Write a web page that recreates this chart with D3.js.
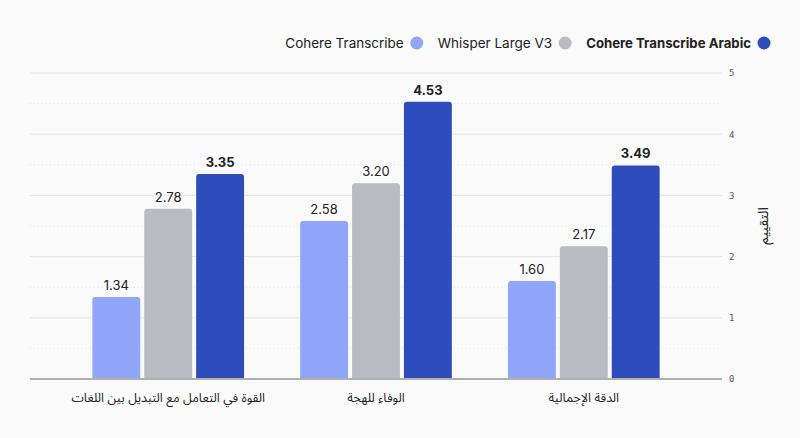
<!DOCTYPE html>
<html>
<head>
<meta charset="utf-8">
<script src="https://cdn.jsdelivr.net/npm/d3@7"></script>
<style>
  html, body { margin: 0; padding: 0; background: #fafafa; }
  svg { display: block; font-family: Inter, "Noto Sans Arabic", "Noto Naskh Arabic", "Noto Sans", "DejaVu Sans", sans-serif; }
</style>
</head>
<body>
<div id="chart"></div>
<script>
var categories = ["القوة في التعامل مع التبديل بين اللغات", "الوفاء للهجة", "الدقة الإجمالية"];
var seriesNames = ["Cohere Transcribe", "Whisper Large V3", "Cohere Transcribe Arabic"];
var seriesColors = ["#8fa6fb", "#bbbbc4", "#2c4dbb"];
var cohereTranscribe = [1.34, 2.58, 1.60];
var whisperLargeV3 = [2.78, 3.20, 2.17];
var cohereArabic = [3.35, 4.53, 3.49];
var yTicks = [0, 1, 2, 3, 4, 5];
var yLabel = "التقييم";

var series = [cohereTranscribe, whisperLargeV3, cohereArabic];

var width = 800, height = 438;
var plotLeft = 30, plotRight = 722, plotTop = 73, plotBottom = 379;

var svg = d3.select("#chart").append("svg")
    .attr("width", width)
    .attr("height", height);

var y = d3.scaleLinear().domain([0, 5]).range([plotBottom, plotTop]);
var x0 = d3.scaleBand().domain(categories).range([plotLeft, plotRight])
    .paddingInner(0.27).paddingOuter(0.3);
var x1 = d3.scaleBand().domain(seriesNames).range([0, x0.bandwidth()])
    .paddingInner(0.077);

// grid: solid at whole numbers, dotted at halves
var g = svg.append("g");
d3.range(0.5, 5, 1).forEach(function(v) {
    g.append("line")
        .attr("x1", plotLeft).attr("x2", plotRight)
        .attr("y1", y(v)).attr("y2", y(v))
        .style("stroke", "#e2e2e2")
        .style("stroke-width", 1)
        .style("stroke-dasharray", "1,3");
});
yTicks.forEach(function(v) {
    if (v === 0) return;
    g.append("line")
        .attr("x1", plotLeft).attr("x2", plotRight)
        .attr("y1", y(v)).attr("y2", y(v))
        .style("stroke", "#e4e4e4")
        .style("stroke-width", 1);
});

// y axis on the right
var yAxis = d3.axisRight(y).tickValues(yTicks).tickFormat(d3.format("d"))
    .tickSize(0).tickPadding(7);
var ax = svg.append("g")
    .attr("transform", "translate(" + plotRight + ",0)")
    .call(yAxis);
ax.select(".domain").remove();
ax.selectAll("text")
    .style("font-family", "'DejaVu Sans Mono', monospace")
    .style("font-size", "9px")
    .style("fill", "#555");

svg.append("text")
    .attr("transform", "translate(768," + ((plotTop + plotBottom) / 2) + ") rotate(-90)")
    .attr("text-anchor", "middle")
    .style("font-size", "14px")
    .style("fill", "#222")
    .text(yLabel);

// rounded-top bar path
function barPath(bx, by, bw, bh, r) {
    r = Math.min(r, bh);
    return "M" + bx + "," + (by + bh) +
        "V" + (by + r) +
        "Q" + bx + "," + by + " " + (bx + r) + "," + by +
        "H" + (bx + bw - r) +
        "Q" + (bx + bw) + "," + by + " " + (bx + bw) + "," + (by + r) +
        "V" + (by + bh) + "Z";
}

var groups = svg.append("g").selectAll("g")
    .data(categories)
    .join("g")
    .attr("transform", function(d) { return "translate(" + x0(d) + ",0)"; });

groups.each(function(cat, ci) {
    var grp = d3.select(this);
    seriesNames.forEach(function(name, si) {
        var v = series[si][ci];
        var bx = x1(name), bw = x1.bandwidth();
        grp.append("path")
            .attr("d", barPath(bx, y(v), bw, y(0) - y(v), 3))
            .style("fill", seriesColors[si]);
        grp.append("text")
            .attr("x", bx + bw / 2)
            .attr("y", y(v) - 7)
            .attr("text-anchor", "middle")
            .style("font-size", "13px")
            .style("font-weight", si === 2 ? "700" : "400")
            .style("fill", "#222")
            .text(v.toFixed(2));
    });
    grp.append("text")
        .attr("x", x0.bandwidth() / 2)
        .attr("y", 402)
        .attr("text-anchor", "middle")
        .style("font-size", "12.5px")
        .style("fill", "#222")
        .text(cat);
});

// baseline
svg.append("line")
    .attr("x1", plotLeft).attr("x2", plotRight)
    .attr("y1", y(0)).attr("y2", y(0))
    .style("stroke", "#b0b0b0")
    .style("stroke-width", 2);

// legend, right aligned
var legend = svg.append("g");
var lx = 770;
for (var i = seriesNames.length - 1; i >= 0; i--) {
    legend.append("circle")
        .attr("cx", lx - 6).attr("cy", 43).attr("r", 6.5)
        .style("fill", seriesColors[i]);
    var t = legend.append("text")
        .attr("x", lx - 19).attr("y", 48)
        .attr("text-anchor", "end")
        .style("font-size", i === 2 ? "13.2px" : "13.5px")
        .style("font-weight", i === 2 ? "700" : "400")
        .style("fill", "#222")
        .text(seriesNames[i]);
    lx = lx - 19 - t.node().getComputedTextLength() - 15;
}
</script>
</body>
</html>
